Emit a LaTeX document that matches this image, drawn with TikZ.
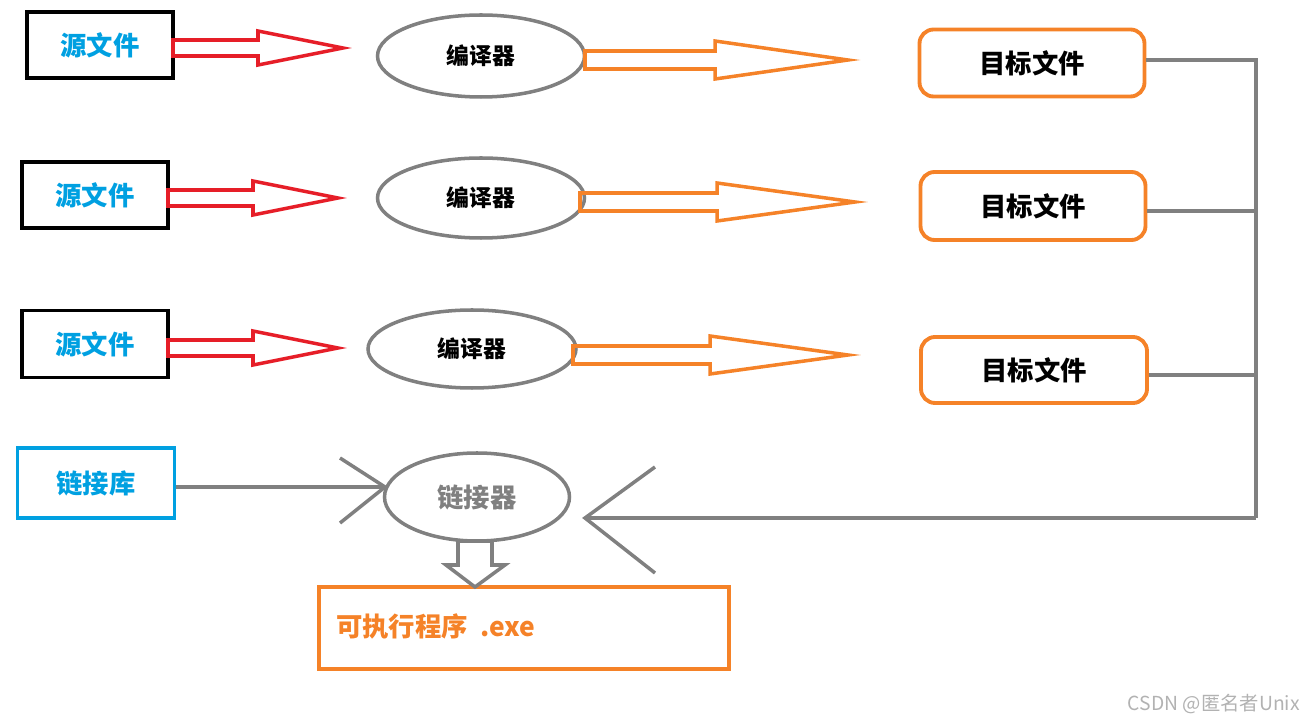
\documentclass[tikz,border=0pt]{standalone}
\usepackage{fontspec}
\newfontfamily\cjk{Noto Sans CJK SC}
\definecolor{cblue}{RGB}{0,160,225}
\definecolor{cred}{RGB}{230,30,40}
\definecolor{corange}{RGB}{245,130,40}
\definecolor{cgray}{RGB}{128,128,128}
\tikzset{
 srcbox/.style={draw=black,line width=2.2pt,text=cblue,font=\cjk\bfseries\fontsize{15}{17}\selectfont},
 comp/.style={draw=cgray,line width=2pt,ellipse,font=\cjk\bfseries\fontsize{13}{15}\selectfont},
 objbox/.style={draw=corange,line width=2.2pt,rounded corners=8pt,font=\cjk\bfseries\fontsize{15}{17}\selectfont},
 conn/.style={draw=cgray,line width=2pt},
 redarr/.style={draw=cred,line width=2pt,line join=miter},
 orarr/.style={draw=corange,line width=2pt,line join=miter}
}
\usetikzlibrary{shapes.geometric}
\begin{document}
\begin{tikzpicture}[x=0.02cm,y=-0.02cm]
\useasboundingbox (0,0) rectangle (1312,722);
% source boxes
\node[srcbox,minimum width=146*0.02cm,minimum height=66*0.02cm] (s1) at (100,45) {源文件};
\node[srcbox,minimum width=146*0.02cm,minimum height=66*0.02cm] (s2) at (95,195) {源文件};
\node[srcbox,minimum width=146*0.02cm,minimum height=67*0.02cm] (s3) at (95,344) {源文件};
\node[draw=cblue,line width=2.2pt,text=cblue,font=\cjk\bfseries\fontsize{15}{17}\selectfont,minimum width=157*0.02cm,minimum height=70*0.02cm] (lib) at (96,483) {链接库};
% compilers
\node[comp,minimum width=207*0.02cm,minimum height=82*0.02cm] (c1) at (481,56) {编译器};
\node[comp,minimum width=207*0.02cm,minimum height=80*0.02cm] (c2) at (481,198) {编译器};
\node[comp,minimum width=208*0.02cm,minimum height=78*0.02cm] (c3) at (472,349) {编译器};
\node[comp,text=cgray,font=\cjk\bfseries\fontsize{15}{17}\selectfont,minimum width=185*0.02cm,minimum height=88*0.02cm] (lk) at (477,497) {链接器};
% objects
\node[objbox,minimum width=225*0.02cm,minimum height=67*0.02cm] (o1) at (1032,63) {目标文件};
\node[objbox,minimum width=225*0.02cm,minimum height=68*0.02cm] (o2) at (1033,206) {目标文件};
\node[objbox,minimum width=226*0.02cm,minimum height=66*0.02cm] (o3) at (1034,370) {目标文件};
% exe
\node[draw=corange,line width=2.2pt,minimum width=410*0.02cm,minimum height=82*0.02cm] (exe) at (524,628) {};
\node[text=corange,font=\cjk\bfseries\fontsize{15}{17}\selectfont,anchor=west] (exet) at (330,626) {可执行程序\ \ .exe};
% red block arrows
\foreach \y/\xa/\xb in {48/173/343,198/168/338,348/168/338}{
 \draw[redarr] (\xa,\y-8) -- (\xa+85,\y-8) -- (\xa+85,\y-17) -- (\xb,\y) -- (\xa+85,\y+17) -- (\xa+85,\y+8) -- (\xa,\y+8) -- cycle;
}
% orange block arrows
\foreach \y/\xa/\xh/\xb in {60/585/715/848,202/580/717/855,355/573/710/848}{
 \draw[orarr] (\xa,\y-9) -- (\xh,\y-9) -- (\xh,\y-19) -- (\xb,\y) -- (\xh,\y+19) -- (\xh,\y+9) -- (\xa,\y+9) -- cycle;
}
% connectors
\coordinate (bus) at (1256,518);
\draw[conn] (o1.east |- 0,60) -- (1256,60) -- (bus);
\draw[conn] (o2.east |- 0,211) -- (1256,211);
\draw[conn] (o3.east |- 0,375) -- (1256,375);
\coordinate (tip) at (585,518);
\draw[conn] (bus) -- (tip);
\draw[conn] (655,467) -- (tip) -- (655,573);
\draw[conn] (lib.east |- 0,487) -- (385,487);
\draw[conn] (340,458) -- (385,487) -- (340,523);
% gray down arrow
\draw[conn,line join=miter] (458,541) -- (492,541) -- (492,565) -- (505,565) -- (475,587) -- (446,565) -- (458,565) -- cycle;
\node[text=black!30,font=\cjk\fontsize{11}{13}\selectfont,anchor=east] (wm) at (1306,704) {CSDN @匿名者Unix};
\end{tikzpicture}
\end{document}
